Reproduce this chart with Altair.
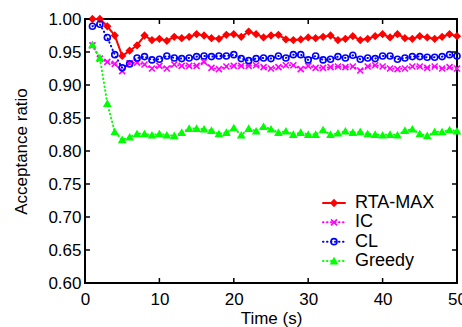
import altair as alt
import pandas as pd

names = ["RTA-MAX", "IC", "CL", "Greedy"]
colors = ["#ff0000", "#ff00ff", "#0000ff", "#00ff00"]
fills = ["#ff0000", "transparent", "transparent", "#00ff00"]
shapes = ["diamond", "M-1,-1L1,1M-1,1L1,-1", "circle", "triangle-up"]
dashes = [[1, 0], [0.5, 3.5], [0.5, 3.5], [0.5, 3.5]]

time = list(range(1, 51))

rta = [1.000, 1.000, 0.989, 0.975, 0.944, 0.952, 0.960, 0.975, 0.968, 0.970,
       0.967, 0.973, 0.971, 0.973, 0.977, 0.975, 0.971, 0.970, 0.976, 0.977,
       0.973, 0.981, 0.977, 0.972, 0.975, 0.976, 0.969, 0.968, 0.969, 0.972,
       0.971, 0.973, 0.975, 0.968, 0.970, 0.974, 0.968, 0.970, 0.974, 0.977,
       0.972, 0.977, 0.971, 0.970, 0.974, 0.972, 0.970, 0.973, 0.977, 0.974]
ic = [0.960, 0.940, 0.935, 0.932, 0.921, 0.933, 0.934, 0.931, 0.925, 0.929,
      0.925, 0.931, 0.929, 0.929, 0.929, 0.935, 0.926, 0.924, 0.928, 0.929,
      0.929, 0.929, 0.930, 0.927, 0.925, 0.927, 0.930, 0.930, 0.924, 0.929,
      0.926, 0.926, 0.927, 0.928, 0.927, 0.928, 0.922, 0.928, 0.930, 0.928,
      0.925, 0.924, 0.925, 0.928, 0.928, 0.926, 0.928, 0.925, 0.927, 0.925]
cl = [0.989, 0.992, 0.972, 0.946, 0.926, 0.932, 0.941, 0.943, 0.938, 0.939,
      0.944, 0.941, 0.940, 0.941, 0.943, 0.944, 0.943, 0.944, 0.944, 0.946,
      0.940, 0.937, 0.940, 0.941, 0.940, 0.944, 0.941, 0.946, 0.946, 0.938,
      0.944, 0.938, 0.939, 0.943, 0.941, 0.945, 0.939, 0.941, 0.940, 0.944,
      0.944, 0.939, 0.941, 0.943, 0.943, 0.942, 0.942, 0.943, 0.946, 0.944]
greedy = [0.961, 0.941, 0.872, 0.829, 0.817, 0.821, 0.826, 0.826, 0.824, 0.826,
          0.824, 0.823, 0.828, 0.834, 0.834, 0.833, 0.831, 0.826, 0.828, 0.835,
          0.824, 0.834, 0.830, 0.837, 0.833, 0.828, 0.830, 0.825, 0.828, 0.825,
          0.825, 0.832, 0.825, 0.827, 0.830, 0.828, 0.829, 0.826, 0.825, 0.824,
          0.825, 0.824, 0.831, 0.833, 0.826, 0.823, 0.829, 0.829, 0.832, 0.830]

x_ticks = [0, 10, 20, 30, 40, 50]
y_ticks = [0.60, 0.65, 0.70, 0.75, 0.80, 0.85, 0.90, 0.95, 1.00]

series = {"RTA-MAX": rta, "IC": ic, "CL": cl, "Greedy": greedy}
rows = []
for i, n in enumerate(names):
    for t, v in zip(time, series[n]):
        rows.append({"series": n, "time": t, "value": v, "k": i})
df = pd.DataFrame(rows)

W, H = 372, 264
FONT = "Liberation Sans"

xscale = alt.Scale(domain=[0, 50], nice=False, zero=False)
yscale = alt.Scale(domain=[0.6, 1.0], nice=False, zero=False)
xaxis = alt.Axis(values=x_ticks, title="Time (s)", ticks=False, domain=False,
                 grid=False, labelPadding=8, format="d", titlePadding=3,
                 labelFlush=False, labelOverlap=False)
yaxis = alt.Axis(values=y_ticks, title="Acceptance ratio", ticks=False,
                 domain=False, grid=False, labelPadding=4, format=".2f",
                 titlePadding=17, labelFlush=False, labelOverlap=False)

color = alt.Color("series:N", scale=alt.Scale(domain=names, range=colors), legend=None)
shape = alt.Shape("series:N", scale=alt.Scale(domain=names, range=shapes), legend=None)
fill = alt.Fill("series:N", scale=alt.Scale(domain=names, range=fills), legend=None)
dash = alt.StrokeDash("series:N", scale=alt.Scale(domain=names, range=dashes), legend=None)

base = alt.Chart(df)

lines = base.mark_line(strokeWidth=2, strokeCap="round").encode(
    x=alt.X("time:Q", scale=xscale, axis=xaxis, title="Time (s)"),
    y=alt.Y("value:Q", scale=yscale, axis=yaxis, title="Acceptance ratio"),
    color=color,
    strokeDash=dash,
    order="time:Q",
)

points = base.mark_point(filled=False, strokeWidth=1.6, size=36, opacity=1).encode(
    x=alt.X("time:Q", scale=xscale, axis=xaxis, title="Time (s)"),
    y=alt.Y("value:Q", scale=yscale, axis=yaxis, title="Acceptance ratio"),
    color=color,
    shape=shape,
    fill=fill,
    order="k:Q",
)

xt = pd.DataFrame({"time": x_ticks})
yt = pd.DataFrame({"value": y_ticks})

xtick_bottom = alt.Chart(xt).mark_rule(color="black", strokeWidth=1.5).encode(
    x=alt.X("time:Q", scale=xscale, axis=xaxis, title="Time (s)"),
    y=alt.value(H), y2=alt.value(H - 5))
xtick_top = alt.Chart(xt).mark_rule(color="black", strokeWidth=1.5).encode(
    x=alt.X("time:Q", scale=xscale, axis=xaxis, title="Time (s)"),
    y=alt.value(0), y2=alt.value(5))
ytick_left = alt.Chart(yt).mark_rule(color="black", strokeWidth=1.5).encode(
    y=alt.Y("value:Q", scale=yscale, axis=yaxis, title="Acceptance ratio"),
    x=alt.value(0), x2=alt.value(5))
ytick_right = alt.Chart(yt).mark_rule(color="black", strokeWidth=1.5).encode(
    y=alt.Y("value:Q", scale=yscale, axis=yaxis, title="Acceptance ratio"),
    x=alt.value(W), x2=alt.value(W - 5))

main = alt.layer(lines, points, xtick_bottom, xtick_top, ytick_left, ytick_right)

leg_df = pd.DataFrame({"series": names})
ly = alt.Y("series:N", scale=alt.Scale(type="point", domain=names, range=[184, 242],
                                        padding=0), axis=None)
leg_lines = alt.Chart(leg_df).mark_rule(strokeWidth=2, strokeCap="round").encode(
    y=ly, x=alt.value(238), x2=alt.value(260), color=color, strokeDash=dash)
leg_pts = alt.Chart(leg_df).mark_point(filled=False, strokeWidth=1.6, size=36, opacity=1).encode(
    y=ly, x=alt.value(249), color=color, shape=shape, fill=fill)
leg_txt = alt.Chart(leg_df).mark_text(align="left", baseline="middle", fontSize=18,
                                      font=FONT, color="black").encode(
    y=ly, x=alt.value(270), text="series:N")
legend = alt.layer(leg_lines, leg_pts, leg_txt)

chart = alt.layer(main, legend).resolve_scale(y="independent").properties(
    width=W, height=H,
    autosize=alt.AutoSizeParams(type="none"),
    padding={"left": 85, "top": 19, "right": 5, "bottom": 44},
    background="white",
).configure_view(stroke="black", strokeWidth=2).configure_axis(
    labelFont=FONT, titleFont=FONT, labelFontSize=17, titleFontSize=17,
    titleFontWeight="normal", labelColor="black", titleColor="black",
)

chart.save("out.html", embed_options={"renderer": "svg", "actions": False})
